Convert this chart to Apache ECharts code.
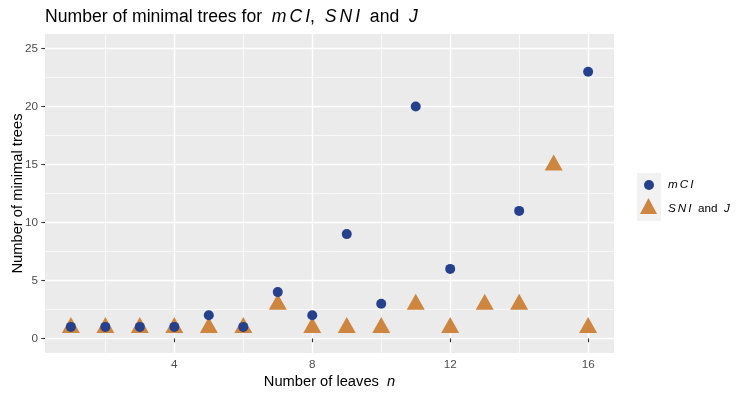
<!DOCTYPE html>
<html>
<head>
<meta charset="utf-8">
<script src="https://cdn.jsdelivr.net/npm/echarts@6/dist/echarts.min.js"></script>
<style>
  html, body { margin: 0; padding: 0; background: #fff; }
  #chart { width: 747px; height: 396px; }
</style>
</head>
<body>
<div id="chart"></div>
<script>
// ---- data ----
const nLeaves = [1, 2, 3, 4, 5, 6, 7, 8, 9, 10, 11, 12, 13, 14, 15, 16];
const mciValues = [1, 1, 1, 1, 2, 1, 4, 2, 9, 3, 20, 6, null, 11, null, 23];
const sniJValues = [1, 1, 1, 1, 1, 1, 3, 1, 1, 1, 3, 1, 3, 3, 15, 1];
const xTickLabels = [4, 8, 12, 16];
const xMinorBreaks = [2, 6, 10, 14];
const yTickLabels = [0, 5, 10, 15, 20, 25];
const yMinorBreaks = [2.5, 7.5, 12.5, 17.5, 22.5];

const FONT = '"Liberation Sans", Arial, Helvetica, sans-serif';
const BLUE = '#27408B';
const ORANGE = '#CD853F';

function pairs(xs, ys) {
  const out = [];
  xs.forEach((x, i) => { if (ys[i] !== null && ys[i] !== undefined) out.push([x, ys[i]]); });
  return out;
}

const chart = echarts.init(document.getElementById('chart'), null, { renderer: 'canvas' });

const xMin = 0.25, xMax = 16.75, yMin = -1.25, yMax = 26.25;

function minorAxis(min, max, values) {
  return {
    type: 'value', min: min, max: max, scale: true, show: true,
    axisLine: { show: false },
    axisTick: { show: true, length: 0, lineStyle: { color: 'rgba(0,0,0,0)', width: 0 }, customValues: values },
    axisLabel: { show: false, customValues: values },
    splitLine: { show: true, lineStyle: { color: '#FFFFFF', width: 0.7 } }
  };
}

const italicTitle = { fontFamily: FONT, fontSize: 17.6, fontStyle: 'italic', color: '#000' };
const italicTitleSp = Object.assign({}, italicTitle, { padding: [0, 0, 0, 3] });
const italicLeg = { fontFamily: FONT, fontSize: 11.7, fontStyle: 'italic', fill: '#000' };
const italicLegSp = Object.assign({}, italicLeg, { padding: [0, 0, 0, 2] });

const option = {
  backgroundColor: '#ffffff',
  animation: false,
  textStyle: { fontFamily: FONT },
  title: {
    text: 'Number of minimal trees for  {i|m}{s|C}{s|I},  {i|S}{s|N}{s|I}  and  {i|J}',
    left: 45,
    top: 8,
    padding: 0,
    textStyle: {
      fontFamily: FONT, fontSize: 17.6, fontWeight: 'normal', color: '#000',
      rich: { i: italicTitle, s: italicTitleSp }
    }
  },
  grid: { left: 45, right: 133, top: 34, bottom: 43, containLabel: false, outerBoundsMode: 'none',
          backgroundColor: '#EBEBEB', show: true, borderWidth: 0 },
  xAxis: [
    minorAxis(xMin, xMax, xMinorBreaks),
    {
      type: 'value', min: xMin, max: xMax, scale: true, position: 'bottom',
      name: 'Number of leaves  {i|n}', nameLocation: 'middle', nameGap: 21, nameMoveOverlap: false,
      nameTextStyle: {
        fontFamily: FONT, fontSize: 14.7, color: '#000',
        rich: { i: { fontFamily: FONT, fontSize: 14.7, fontStyle: 'italic', color: '#000' } }
      },
      axisLine: { show: false },
      axisTick: { show: true, length: 3.7, lineStyle: { color: '#333333', width: 1.1 }, customValues: xTickLabels },
      axisLabel: { show: true, margin: 6, color: '#4D4D4D', fontSize: 11.7, fontFamily: FONT, customValues: xTickLabels },
      splitLine: { show: true, lineStyle: { color: '#FFFFFF', width: 1.4 } }
    }
  ],
  yAxis: [
    minorAxis(yMin, yMax, yMinorBreaks),
    {
      type: 'value', min: yMin, max: yMax, scale: true, position: 'left',
      name: 'Number of minimal trees', nameLocation: 'middle', nameGap: 20, nameMoveOverlap: false,
      nameTextStyle: { fontFamily: FONT, fontSize: 14.7, color: '#000' },
      axisLine: { show: false },
      axisTick: { show: true, length: 3.7, lineStyle: { color: '#333333', width: 1.1 }, customValues: yTickLabels },
      axisLabel: { show: true, margin: 7, color: '#4D4D4D', fontSize: 11.7, fontFamily: FONT, customValues: yTickLabels },
      splitLine: { show: true, lineStyle: { color: '#FFFFFF', width: 1.4 } }
    }
  ],
  series: [
    {
      name: 'SNI and J', type: 'scatter', xAxisIndex: 1, yAxisIndex: 1,
      symbol: 'triangle', symbolSize: [18, 16], symbolOffset: [0, -2],
      itemStyle: { color: ORANGE, opacity: 1 },
      data: pairs(nLeaves, sniJValues), z: 3
    },
    {
      name: 'mCI', type: 'scatter', xAxisIndex: 1, yAxisIndex: 1,
      symbol: 'circle', symbolSize: 10,
      itemStyle: { color: BLUE, opacity: 1 },
      data: pairs(nLeaves, mciValues), z: 4
    }
  ],
  graphic: [
    {
      type: 'group', left: 637, top: 173,
      children: [
        { type: 'rect', shape: { x: 0, y: 0, width: 24, height: 48 }, style: { fill: '#F2F2F2' } },
        { type: 'circle', shape: { cx: 12, cy: 12, r: 5 }, style: { fill: BLUE } },
        { type: 'polygon', shape: { points: [[3, 41], [20, 41], [11.5, 25]] }, style: { fill: ORANGE } },
        { type: 'text', x: 31, y: 12, style: { text: '{i|m}{s|C}{s|I}', fontFamily: FONT, fontSize: 11.7,
            fill: '#000', verticalAlign: 'middle', align: 'left', rich: { i: italicLeg, s: italicLegSp } } },
        { type: 'text', x: 31, y: 36, style: { text: '{i|S}{s|N}{s|I}  and  {i|J}', fontFamily: FONT, fontSize: 11.7,
            fill: '#000', verticalAlign: 'middle', align: 'left', rich: { i: italicLeg, s: italicLegSp } } }
      ]
    }
  ]
};

chart.setOption(option);
</script>
</body>
</html>
